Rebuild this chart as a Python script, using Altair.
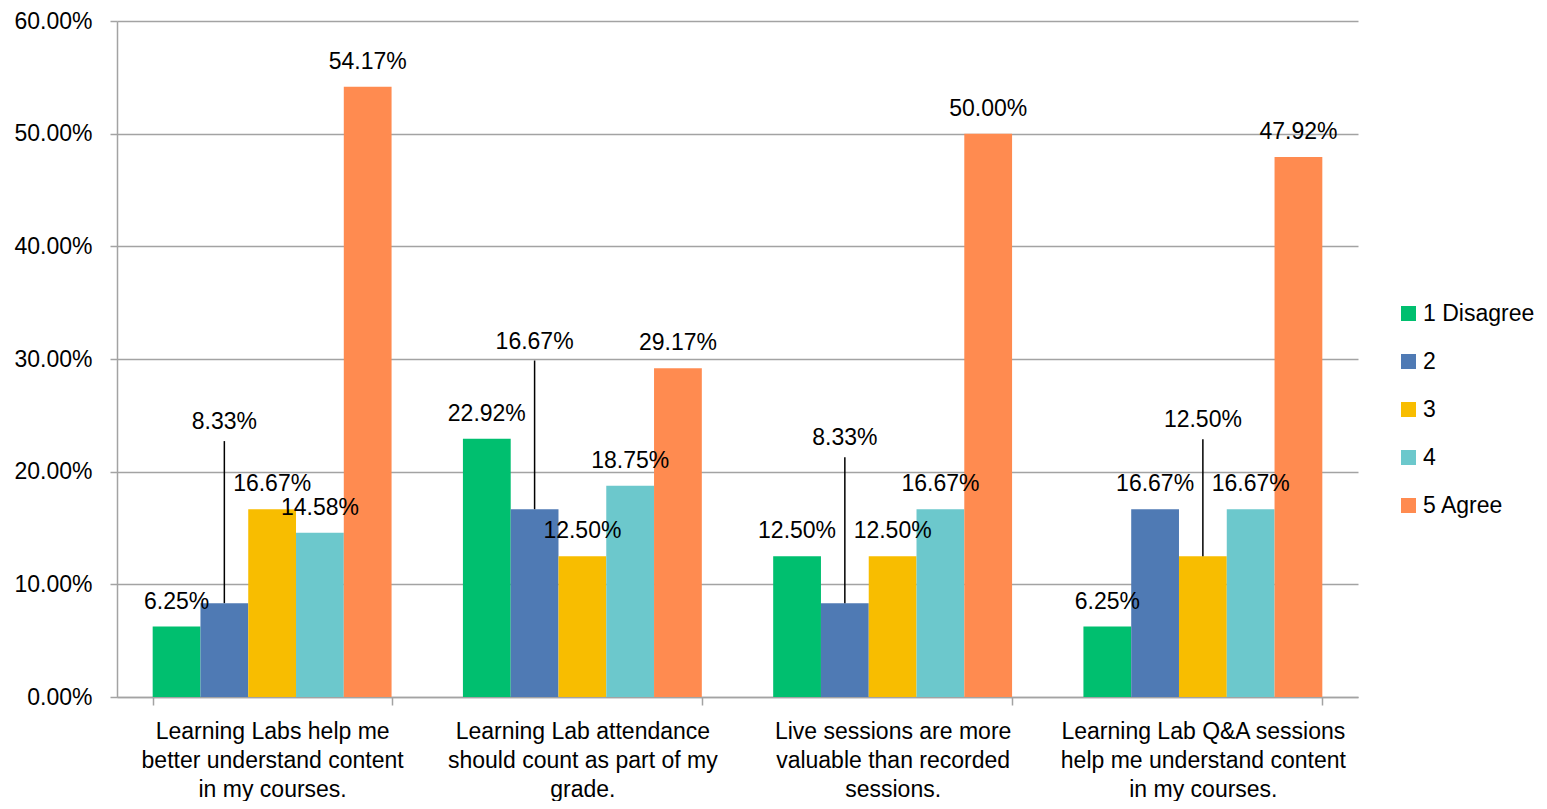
import altair as alt
import pandas as pd

# ---- data -------------------------------------------------------------
categories = [
    "Learning Labs help me\nbetter understand content\nin my courses.",
    "Learning Lab attendance\nshould count as part of my\ngrade.",
    "Live sessions are more\nvaluable than recorded\nsessions.",
    "Learning Lab Q&A sessions\nhelp me understand content\nin my courses.",
]
series = ["1 Disagree", "2", "3", "4", "5 Agree"]

disagree_1 = [0.0625, 0.2292, 0.1250, 0.0625]
rating_2 = [0.0833, 0.1667, 0.0833, 0.1667]
rating_3 = [0.1667, 0.1250, 0.1250, 0.1250]
rating_4 = [0.1458, 0.1875, 0.1667, 0.1667]
agree_5 = [0.5417, 0.2917, 0.5000, 0.4792]

y_ticks = [0.0, 0.1, 0.2, 0.3, 0.4, 0.5, 0.6]

# labels that were pulled away from their bar with a leader line
# (category index, series) -> label height on the value axis
leader_labels = {
    (0, "2"): 0.244,
    (1, "2"): 0.3155,
    (2, "2"): 0.2297,
    (3, "3"): 0.2456,
}

colors = ["#00BF6F", "#4F7AB4", "#F8BD00", "#6CC8CC", "#FF8B50"]

# ---- table ------------------------------------------------------------
values_by_series = [disagree_1, rating_2, rating_3, rating_4, agree_5]
rows = []
for s, vals in zip(series, values_by_series):
    for i, (cat, v) in enumerate(zip(categories, vals)):
        moved = (i, s) in leader_labels
        rows.append({
            "category": cat,
            "series": s,
            "value": v,
            "moved": moved,
            "label_y": leader_labels.get((i, s), v),
        })
df = pd.DataFrame(rows)

FONT = "Liberation Sans"
GRID = "#a3a3a3"

x_enc = alt.X(
    "category:N",
    sort=categories,
    scale=alt.Scale(paddingInner=0.23, paddingOuter=0.115),
    axis=alt.Axis(
        title=None,
        labelAngle=0,
        labelExpr="split(datum.label, '\\n')",
        labelFont=FONT,
        labelFontSize=23,
        labelColor="#000000",
        labelLineHeight=29,
        labelPadding=15,
        labelLimit=400,
        tickBand="extent",
        tickSize=8,
        tickColor=GRID,
        tickWidth=1.5,
        domainColor=GRID,
        domainWidth=1.5,
        grid=False,
    ),
)
xoff_enc = alt.XOffset("series:N", sort=series,
                       scale=alt.Scale(paddingInner=0, paddingOuter=0))

y_scale = alt.Scale(domain=[0, 0.6], nice=False)

base = alt.Chart(df)

bars = base.mark_bar().encode(
    x=x_enc,
    xOffset=xoff_enc,
    y=alt.Y(
        "value:Q",
        scale=y_scale,
        axis=alt.Axis(
            title=None,
            values=y_ticks,
            format=".2%",
            labelFont=FONT,
            labelFontSize=23,
            labelColor="#000000",
            labelPadding=18,
            tickSize=7,
            tickColor=GRID,
            tickWidth=1.5,
            domainColor=GRID,
            domainWidth=1.5,
            grid=True,
            gridColor=GRID,
            gridWidth=1.5,
        ),
    ),
    color=alt.Color(
        "series:N",
        sort=series,
        scale=alt.Scale(domain=series, range=colors),
        legend=alt.Legend(
            title=None,
            orient="none",
            legendX=1280,
            legendY=281,
            direction="vertical",
            symbolType="square",
            symbolSize=225,
            symbolStrokeWidth=0,
            symbolOpacity=1,
            labelFont=FONT,
            labelFontSize=23,
            labelColor="#000000",
            labelOffset=3,
            rowPadding=24,
            padding=0,
        ),
    ),
)

labels_default = base.transform_filter("!datum.moved").mark_text(
    font=FONT, fontSize=23, color="#000000", baseline="middle", dy=-25
).encode(
    x=alt.X("category:N", sort=categories),
    xOffset=alt.XOffset("series:N", sort=series),
    y=alt.Y("value:Q", scale=y_scale),
    text=alt.Text("value:Q", format=".2%"),
)

leaders = base.transform_filter("datum.moved").mark_rule(
    color="#000000", strokeWidth=1.5, yOffset=19
).encode(
    x=alt.X("category:N", sort=categories),
    xOffset=alt.XOffset("series:N", sort=series),
    y=alt.Y("label_y:Q", scale=y_scale),
    y2=alt.Y2("value:Q"),
)

labels_moved = base.transform_filter("datum.moved").mark_text(
    font=FONT, fontSize=23, color="#000000", baseline="middle"
).encode(
    x=alt.X("category:N", sort=categories),
    xOffset=alt.XOffset("series:N", sort=series),
    y=alt.Y("label_y:Q", scale=y_scale),
    text=alt.Text("value:Q", format=".2%"),
)

chart = (
    alt.layer(bars, labels_default, leaders, labels_moved)
    .properties(
        width=1241,
        height=676,
        autosize=alt.AutoSizeParams(type="none"),
        padding={"left": 109, "top": 13, "right": 181, "bottom": 104},
        background="white",
    )
    .configure_view(stroke=None)
)

chart.save("out.html", embed_options={"renderer": "svg", "actions": False})
